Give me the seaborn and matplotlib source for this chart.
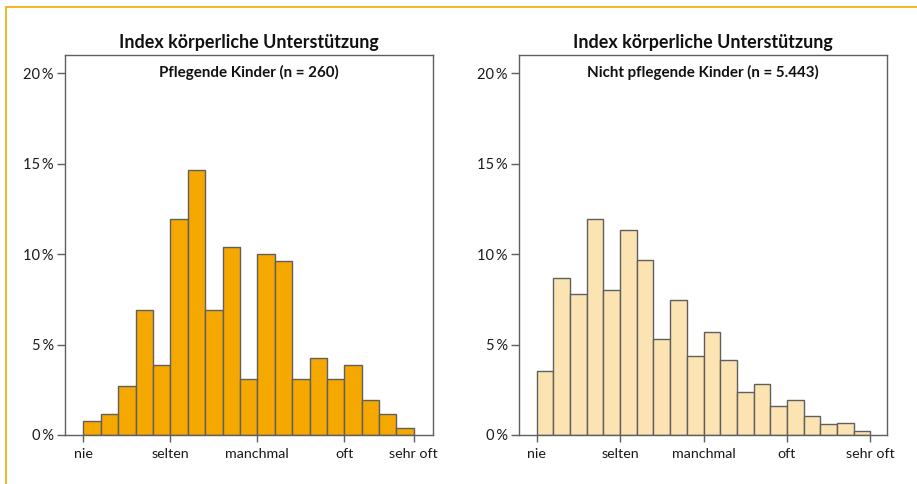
import numpy as np
import pandas as pd
import matplotlib
matplotlib.use("Agg")
import matplotlib.pyplot as plt
import seaborn as sns
from matplotlib.patches import Rectangle

# ---- data (percent per index bin) ----
left_values = [0.77, 1.15, 2.69, 6.92, 3.85, 11.92, 14.62, 6.92, 10.38, 3.08,
               10.00, 9.62, 3.08, 4.23, 3.08, 3.85, 1.92, 1.15, 0.38]
right_values = [3.56, 8.67, 7.77, 11.94, 8.04, 11.33, 9.67, 5.33, 7.44, 4.37,
                5.68, 4.17, 2.40, 2.80, 1.59, 1.92, 1.03, 0.63, 0.68, 0.22]
tick_labels = ["nie", "selten", "manchmal", "oft", "sehr oft"]
left_ticks = [0, 5, 10, 15, 19]
right_ticks = [0, 5, 10, 15, 20]
y_ticks = [0, 5, 10, 15, 20]
main_title = "Index körperliche Unterstützung"
left_sub = "Pflegende Kinder (n = 260)"
right_sub = "Nicht pflegende Kinder (n = 5.443)"

sns.set_theme(style="white")
plt.rcParams['font.family'] = ['Lato', 'DejaVu Sans']

EDGE = "#5f5f5f"
fig = plt.figure(figsize=(9.17, 4.84), dpi=100)

# orange frame
fig.add_artist(Rectangle((5.5 / 917, -0.1), 1.2, (484 - 6.5) / 484 + 0.1,
                         transform=fig.transFigure, fill=False,
                         edgecolor="#F5A800", linewidth=1.2))

def panel(rect, values, ticks, color, sub, xmax):
    ax = fig.add_axes(rect)
    n = len(values)
    df = pd.DataFrame({"x": np.arange(n) + 0.5, "w": values})
    sns.histplot(data=df, x="x", weights="w", bins=n, binrange=(0, n),
                 color=color, alpha=1, edgecolor=EDGE, linewidth=1.0, ax=ax)
    ax.set_xlim(-1.06, xmax)
    ax.set_ylim(0, 21)
    ax.set_yticks(y_ticks)
    ax.set_yticklabels([f"{v}\u2009%" for v in y_ticks])
    ax.set_xticks(ticks)
    ax.set_xticklabels(tick_labels)
    ax.set_xlabel("")
    ax.set_ylabel("")
    for s in ax.spines.values():
        s.set_color(EDGE)
        s.set_linewidth(1.0)
        s.set_visible(True)
    ax.tick_params(axis="y", left=True, length=6, width=1.0, color=EDGE,
                   labelsize=10.5, labelcolor="#1a1a1a", pad=2)
    ax.tick_params(axis="x", bottom=True, length=5, width=1.0, color=EDGE,
                   labelsize=10.3, labelcolor="#1a1a1a", pad=4)
    ax.set_title(main_title, fontsize=12.9, fontweight="bold", color="#111111", pad=5)
    ax.text(0.5, 0.974, sub, transform=ax.transAxes, ha="center", va="top",
            fontsize=10.9, fontweight="bold", color="#111111")
    ax.grid(False)
    return ax

panel([65 / 917, 49 / 484, 368 / 917, 380 / 484], left_values, left_ticks,
      "#F5A800", left_sub, 20.1)
panel([519 / 917, 49 / 484, 368 / 917, 380 / 484], right_values, right_ticks,
      "#FCE4B2", right_sub, 21.0)

fig.savefig("out.png", dpi=100)
